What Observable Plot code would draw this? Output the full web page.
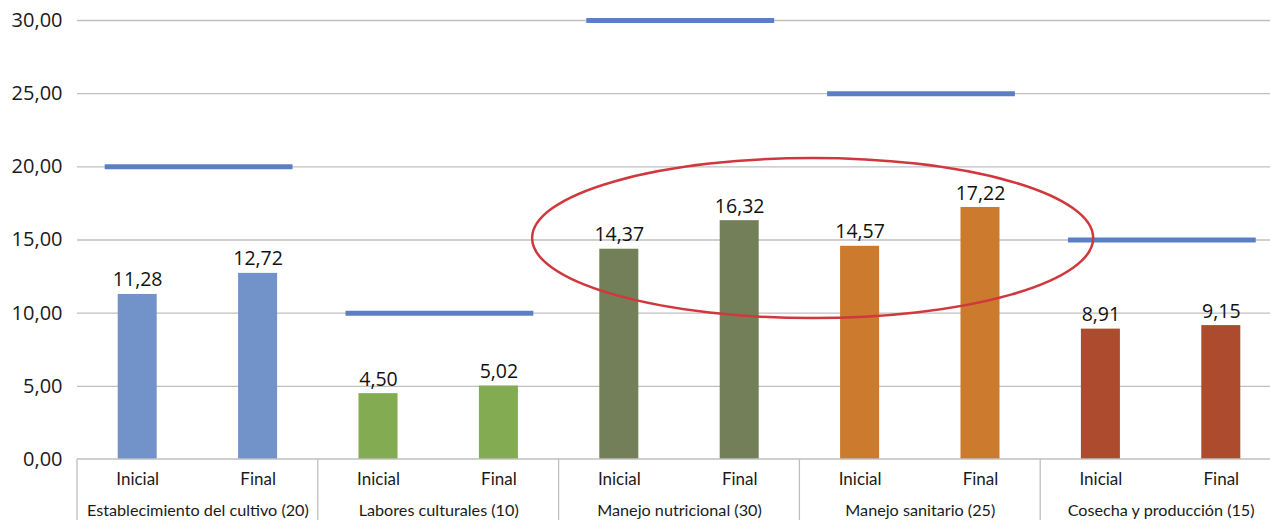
<!DOCTYPE html>
<html>
<head>
<meta charset="utf-8">
<script src="https://cdn.jsdelivr.net/npm/d3@7"></script>
<script src="https://cdn.jsdelivr.net/npm/@observablehq/plot@0.6"></script>
<style>
  html, body { margin: 0; padding: 0; background: #fff; overflow: hidden; }
  #chart svg { overflow: hidden; }
</style>
</head>
<body>
<div id="chart"></div>
<script>
// ---- data ----
const groups = [
  "Establecimiento del cultivo (20)",
  "Labores culturales (10)",
  "Manejo nutricional (30)",
  "Manejo sanitario (25)",
  "Cosecha y producción (15)"
];
const stages = ["Inicial", "Final"];
const inicial = [11.28, 4.50, 14.37, 14.57, 8.91];
const final = [12.72, 5.02, 16.32, 17.22, 9.15];
const targets = [20, 10, 30, 25, 15];
const groupColors = ["#7292CA", "#82AB52", "#737F59", "#CC7A2D", "#AD4B2F"];
const yTicks = [0, 5, 10, 15, 20, 25, 30];
// annotation ellipse (data units: slot index / value)
const ellipseCenter = {x: 6.11, y: 15.1};
const ellipseRadius = {x: 2.33, y: 5.47};

// ---- derived table ----
const bars = [];
groups.forEach((g, gi) => {
  [inicial[gi], final[gi]].forEach((v, si) => {
    bars.push({group: g, gi, stage: stages[si], pos: gi * 2 + si + 0.5, value: v, color: groupColors[gi]});
  });
});
const targetRows = groups.map((g, gi) => ({group: g, gi, value: targets[gi]}));

const fmt = d => d.toFixed(2).replace(".", ",");
const halfBar = 0.162;

function ellipseMark(index, scales, values, dims) {
  const {x, y} = scales;
  const cx = x(ellipseCenter.x), cy = y(ellipseCenter.y);
  const rx = x(ellipseCenter.x + ellipseRadius.x) - cx;
  const ry = cy - y(ellipseCenter.y + ellipseRadius.y);
  const g = d3.create("svg:g");
  g.append("ellipse")
    .attr("cx", cx).attr("cy", cy).attr("rx", rx).attr("ry", ry)
    .attr("fill", "none").attr("stroke", "#D0383D").attr("stroke-width", 2.5);
  return g.node();
}

function bottomAxis(index, scales, values, dims) {
  const {x, y} = scales;
  const y0 = y(0);
  const g = d3.create("svg:g").attr("stroke", "#BFBFBF").attr("stroke-width", 1.3);
  g.append("line").attr("x1", x(0)).attr("x2", x(groups.length * 2)).attr("y1", y0).attr("y2", y0);
  d3.range(groups.length + 1).forEach(i => {
    g.append("line").attr("x1", x(i * 2)).attr("x2", x(i * 2)).attr("y1", y0).attr("y2", dims.height);
  });
  return g.node();
}

const plot = Plot.plot({
  width: 1270,
  height: 520,
  marginTop: 20,
  marginBottom: 61,
  marginLeft: 77,
  marginRight: 0,
  x: {type: "linear", domain: [0, groups.length * 2], range: [77, 1281], axis: null},
  y: {domain: [0, 30], axis: null},
  marks: [
    Plot.gridY(yTicks.filter(d => d > 0), {stroke: "#BFBFBF", strokeOpacity: 1, strokeWidth: 1.3}),
    Plot.axisY(yTicks, {label: null, tickSize: 0, tickPadding: 15, tickFormat: fmt, fontSize: 20, fontFamily: "Open Sans", fill: "#1a1a1a"}),
    Plot.rectY(bars, {x1: d => d.pos - halfBar, x2: d => d.pos + halfBar, y1: 0, y2: "value", fill: "color"}),
    Plot.text(bars, {x: "pos", y: "value", text: d => fmt(d.value), dy: -8, lineAnchor: "bottom", fontSize: 19.5, fontFamily: "Open Sans", fill: "#111"}),
    Plot.ruleY(targetRows, {y: "value", x1: d => d.gi * 2 + 0.23, x2: d => d.gi * 2 + 1.79, stroke: "#5A7FC5", strokeWidth: 5}),
    bottomAxis,
    Plot.text(bars, {x: "pos", y: () => 0, text: "stage", dy: 25, lineAnchor: "bottom", fontSize: 17, fontFamily: "Lato", fill: "#1a1a1a"}),
    Plot.text(targetRows, {x: d => d.gi * 2 + 1, y: () => 0, text: "group", dy: 56, lineAnchor: "bottom", fontSize: 16.2, fontFamily: "Lato", fill: "#1a1a1a"}),
    ellipseMark
  ]
});
document.getElementById("chart").appendChild(plot);
</script>
</body>
</html>
